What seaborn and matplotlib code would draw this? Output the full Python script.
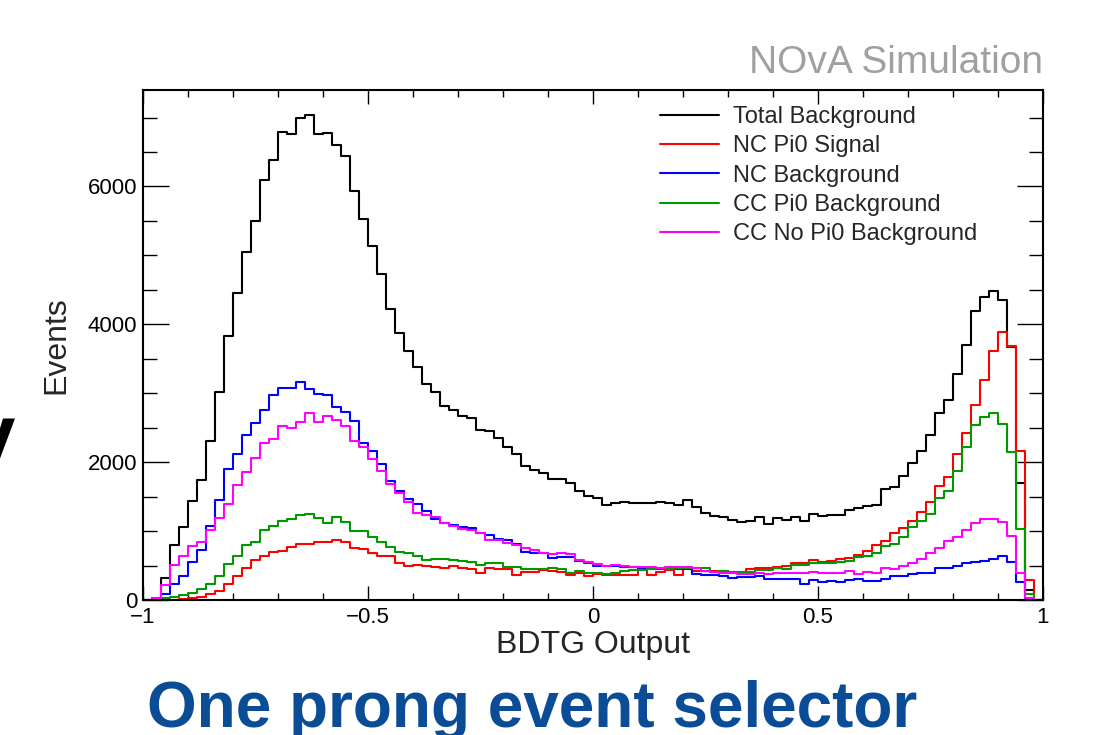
import numpy as np
import pandas as pd
import matplotlib
matplotlib.use("Agg")
import matplotlib.pyplot as plt
from matplotlib.lines import Line2D
from matplotlib.ticker import MultipleLocator, FixedLocator, FixedFormatter
import seaborn as sns

# BDTG output binning: 100 bins from -1 to 1
n_bins = 100
bin_edges = np.linspace(-1, 1, n_bins + 1)
bin_centers = 0.5 * (bin_edges[:-1] + bin_edges[1:])

total_bkg = [
    0, 35, 325, 797, 1066, 1439, 1736, 2314, 3021, 3824,
    4454, 5054, 5495, 6090, 6390, 6792, 6758, 6990, 7044, 6768,
    6782, 6608, 6439, 5940, 5528, 5131, 4725, 4221, 3873, 3611,
    3374, 3140, 3011, 2817, 2759, 2663, 2638, 2469, 2445, 2348,
    2227, 2120, 1951, 1888, 1849, 1757, 1752, 1694, 1583, 1510,
    1486, 1380, 1414, 1428, 1404, 1404, 1404, 1418, 1404, 1385,
    1452, 1355, 1259, 1220, 1201, 1157, 1128, 1152, 1201, 1104,
    1186, 1162, 1210, 1147, 1249, 1220, 1234, 1234, 1307, 1341,
    1365, 1380, 1612, 1636, 1801, 1994, 2164, 2387, 2711, 2905,
    3277, 3695, 4200, 4390, 4478, 4360, 3670, 1695, 140, 0,
]
nc_pi0_signal = [
    0, 0, 0, 5, 10, 24, 48, 90, 130, 230,
    349, 470, 581, 639, 692, 716, 775, 808, 808, 847,
    847, 871, 837, 760, 736, 687, 639, 639, 542, 494,
    508, 499, 484, 470, 494, 460, 450, 397, 460, 445,
    445, 358, 402, 402, 436, 426, 411, 358, 397, 349,
    373, 358, 358, 358, 358, 460, 358, 411, 436, 358,
    460, 426, 426, 426, 426, 411, 387, 445, 460, 470,
    484, 494, 533, 542, 581, 557, 566, 591, 605, 654,
    712, 799, 862, 968, 1050, 1147, 1283, 1428, 1656, 1791,
    2115, 2421, 2830, 3190, 3615, 3892, 3690, 2165, 285, 0,
]
nc_bkg = [
    0, 10, 85, 233, 350, 550, 727, 1078, 1448, 1905,
    2120, 2391, 2566, 2759, 2968, 3074, 3074, 3156, 3060, 2982,
    2968, 2798, 2735, 2600, 2285, 2169, 1975, 1733, 1588, 1472,
    1394, 1290, 1180, 1113, 1089, 1065, 1041, 968, 944, 881,
    871, 808, 702, 678, 678, 605, 620, 629, 566, 533,
    494, 494, 499, 484, 484, 470, 455, 455, 455, 455,
    455, 378, 368, 358, 349, 326, 339, 339, 349, 300,
    300, 300, 300, 232, 290, 257, 276, 266, 290, 300,
    281, 281, 310, 349, 349, 378, 387, 397, 470, 460,
    494, 533, 548, 567, 591, 635, 555, 264, 0, 0,
]
cc_pi0_bkg = [
    0, 10, 24, 48, 73, 107, 155, 233, 349, 523,
    640, 800, 847, 1017, 1075, 1152, 1172, 1234, 1249, 1186,
    1123, 1210, 1138, 1002, 1002, 910, 847, 775, 702, 687,
    639, 581, 600, 595, 581, 571, 557, 508, 542, 542,
    474, 474, 450, 445, 445, 470, 445, 387, 426, 397,
    397, 378, 387, 421, 436, 436, 445, 460, 445, 460,
    460, 460, 470, 411, 426, 400, 402, 411, 436, 436,
    470, 445, 508, 508, 533, 542, 533, 557, 571, 629,
    644, 678, 784, 813, 920, 1055, 1152, 1249, 1477, 1588,
    1878, 2227, 2537, 2650, 2712, 2557, 2150, 1026, 92, 0,
]
cc_nopi0_bkg = [
    0, 24, 218, 514, 640, 785, 843, 1020, 1197, 1391,
    1672, 1851, 2057, 2285, 2333, 2527, 2493, 2580, 2711, 2580,
    2663, 2614, 2527, 2309, 2227, 2043, 1873, 1685, 1559, 1428,
    1259, 1240, 1210, 1113, 1075, 1026, 1017, 978, 871, 871,
    823, 799, 750, 726, 678, 663, 678, 668, 581, 547,
    518, 499, 508, 499, 484, 484, 484, 470, 484, 484,
    484, 460, 426, 411, 397, 385, 378, 378, 397, 378,
    387, 387, 387, 397, 411, 397, 387, 397, 421, 378,
    411, 387, 460, 445, 494, 533, 591, 678, 750, 862,
    920, 1017, 1113, 1172, 1172, 1135, 932, 392, 24, 0,
]

labels = ["Total Background", "NC Pi0 Signal", "NC Background",
          "CC Pi0 Background", "CC No Pi0 Background"]
series = [total_bkg, nc_pi0_signal, nc_bkg, cc_pi0_bkg, cc_nopi0_bkg]
colors = ["#000000", "#ff0000", "#0000ff", "#009900", "#ff00ff"]

xtick_values = [-1, -0.5, 0, 0.5, 1]
xtick_labels = ["\u22121", "\u22120.5", "0", "0.5", "1"]
ytick_values = [0, 2000, 4000, 6000]
ytick_labels = ["0", "2000", "4000", "6000"]

sns.set_style("ticks")
plt.rcParams["font.family"] = ["Liberation Sans", "DejaVu Sans"]

fig = plt.figure(figsize=(10.95, 7.35), dpi=100)
ax = fig.add_axes([143 / 1095, 1 - 600 / 735, 900 / 1095, 510 / 735])

# draw each component as an unfilled step histogram
for vals, col in zip(series, colors):
    df = pd.DataFrame({"bdtg": bin_centers, "events": vals})
    sns.histplot(data=df, x="bdtg", weights="events", bins=n_bins,
                 binrange=(-1, 1), element="step", fill=False, color=col,
                 linewidth=1.5, ax=ax)

ax.set_xlim(-1, 1)
ax.set_ylim(0, 7400)

# ROOT-like axes: inward ticks on all four sides
ax.xaxis.set_major_locator(FixedLocator(xtick_values))
ax.xaxis.set_major_formatter(FixedFormatter(xtick_labels))
ax.xaxis.set_minor_locator(MultipleLocator(0.1))
ax.yaxis.set_major_locator(FixedLocator(ytick_values))
ax.yaxis.set_major_formatter(FixedFormatter(ytick_labels))
ax.yaxis.set_minor_locator(MultipleLocator(500))
ax.tick_params(which="both", direction="in", top=True, right=True,
               color="black", width=1.0, labelsize=16, labelcolor="black")
ax.tick_params(axis="x", which="major", length=10, pad=5)
ax.tick_params(axis="x", which="minor", length=5)
ax.tick_params(axis="y", which="major", length=19, pad=4)
ax.tick_params(axis="y", which="minor", length=10)
for sp in ax.spines.values():
    sp.set_visible(True)
    sp.set_linewidth(1.5)
    sp.set_color("black")

ax.set_xlabel("BDTG Output", fontsize=23)
ax.xaxis.set_label_coords(0.5, -0.058)
ax.set_ylabel("Events", fontsize=23)
ax.yaxis.set_label_coords(-0.08, 0.5)
ax.grid(False)

handles = [Line2D([0], [0], color=c, linewidth=1.5) for c in colors]
ax.legend(handles, labels, loc="upper left",
          bbox_to_anchor=(660 / 1095, 1 - 106 / 735),
          bbox_transform=fig.transFigure, frameon=False, fontsize=17,
          handlelength=2.5, handletextpad=0.6, labelspacing=0.31,
          borderpad=0, borderaxespad=0)

fig.text(1043 / 1095, 1 - 73 / 735, "NOvA Simulation", ha="right",
         va="baseline", fontsize=28, color="#a0a0a0")
fig.text(532 / 1095, 1 - 727 / 735, "One prong event selector", ha="center",
         va="baseline", fontsize=46, fontweight="bold", color="#0b4c97")
# fragment of a neighbouring slide word, cut by the left edge
fig.text(15 / 1095, 1 - 463 / 735, "y", ha="right", va="baseline",
         fontsize=60, fontweight="bold", color="black")

fig.savefig("out.png", dpi=100)
plt.close(fig)
